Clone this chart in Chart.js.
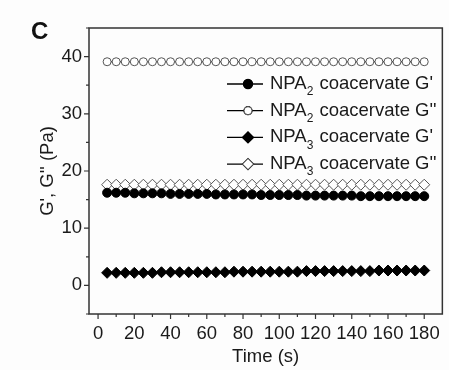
<!DOCTYPE html>
<html>
<head>
<meta charset="utf-8">
<script src="https://cdn.jsdelivr.net/npm/chart.js@4"></script>
<style>
  html, body { margin: 0; padding: 0; background: #fdfdfd; }
  #wrap { width: 449px; height: 370px; }
</style>
</head>
<body>
<div id="wrap"><canvas id="grafico" width="449" height="370"></canvas></div>
<script>
// Tempo (s) e módulos G', G'' (Pa)
const tempo = [5, 10, 15, 20, 25, 30, 35, 40, 45, 50, 55, 60, 65, 70, 75, 80, 85, 90,
  95, 100, 105, 110, 115, 120, 125, 130, 135, 140, 145, 150, 155, 160, 165, 170, 175, 180];

const npa2Gl = [16.2, 16.2, 16.2, 16.1, 16.1, 16.1, 16.1, 16.0, 16.0, 16.0, 16.0, 16.0,
  15.9, 15.9, 15.9, 15.9, 15.9, 15.8, 15.8, 15.8, 15.8, 15.8, 15.7, 15.7,
  15.7, 15.7, 15.7, 15.7, 15.6, 15.6, 15.6, 15.6, 15.6, 15.6, 15.6, 15.6];
const npa2Gll = [39.1, 39.1, 39.1, 39.1, 39.1, 39.1, 39.1, 39.1, 39.1, 39.1, 39.1, 39.1,
  39.1, 39.1, 39.1, 39.1, 39.1, 39.1, 39.1, 39.1, 39.1, 39.1, 39.1, 39.1,
  39.1, 39.1, 39.1, 39.1, 39.1, 39.1, 39.1, 39.1, 39.1, 39.1, 39.1, 39.1];
const npa3Gl = [2.2, 2.2, 2.2, 2.2, 2.2, 2.2, 2.3, 2.3, 2.3, 2.3, 2.3, 2.3,
  2.3, 2.3, 2.4, 2.4, 2.4, 2.4, 2.4, 2.4, 2.4, 2.4, 2.5, 2.5,
  2.5, 2.5, 2.5, 2.5, 2.5, 2.5, 2.6, 2.6, 2.6, 2.6, 2.6, 2.6];
const npa3Gll = [17.6, 17.6, 17.6, 17.6, 17.6, 17.6, 17.6, 17.6, 17.6, 17.6, 17.6, 17.6,
  17.6, 17.6, 17.6, 17.6, 17.6, 17.6, 17.6, 17.6, 17.6, 17.6, 17.6, 17.6,
  17.6, 17.6, 17.6, 17.6, 17.6, 17.6, 17.6, 17.6, 17.6, 17.6, 17.6, 17.6];

// Rótulos dos eixos (marcas maiores)
const ticksX = [0, 20, 40, 60, 80, 100, 120, 140, 160, 180];
const ticksY = [0, 10, 20, 30, 40];
const menoresX = [10, 30, 50, 70, 90, 110, 130, 150, 170];
const menoresY = [-5, 5, 15, 25, 35, 45];

// Legenda: [nome, subscrito, sufixo]
const nomes = [['NPA', '2', " coacervate G'"], ['NPA', '2', " coacervate G''"],
  ['NPA', '3', " coacervate G'"], ['NPA', '3', " coacervate G''"]];

const FONTE = '"Liberation Sans", Arial, sans-serif';
const COR_TEXTO = '#1a1a1a';

function pontos(valores) {
  return tempo.map((t, i) => ({ x: t, y: valores[i] }));
}

// Moldura, marcas dos eixos, letra do painel e legenda
const extras = {
  id: 'extras',
  afterDraw(chart) {
    const ctx = chart.ctx;
    const a = chart.chartArea;
    const sx = chart.scales.x, sy = chart.scales.y;
    ctx.save();
    ctx.strokeStyle = '#333';
    ctx.lineWidth = 1.5;
    ctx.strokeRect(a.left, a.top, a.right - a.left, a.bottom - a.top);

    ctx.lineWidth = 1.2;
    ctx.beginPath();
    ticksX.forEach(v => { const px = sx.getPixelForValue(v); ctx.moveTo(px, a.bottom); ctx.lineTo(px, a.bottom + 5); });
    menoresX.forEach(v => { const px = sx.getPixelForValue(v); ctx.moveTo(px, a.bottom); ctx.lineTo(px, a.bottom + 3); });
    ticksY.forEach(v => { const py = sy.getPixelForValue(v); ctx.moveTo(a.left, py); ctx.lineTo(a.left - 5, py); });
    menoresY.forEach(v => { const py = sy.getPixelForValue(v); ctx.moveTo(a.left, py); ctx.lineTo(a.left - 3, py); });
    ctx.stroke();

    // letra do painel
    ctx.fillStyle = '#111';
    ctx.font = 'bold 24px ' + FONTE;
    ctx.textBaseline = 'alphabetic';
    ctx.textAlign = 'left';
    ctx.fillText('C', 31, 39);

    // legenda
    const x0 = 227, x1 = 263, xm = 248, xt = 270;
    chart.data.datasets.forEach((ds, i) => {
      const y = 84 + i * 26.7;
      ctx.strokeStyle = ds.borderColor;
      ctx.lineWidth = 1.3;
      ctx.beginPath();
      ctx.moveTo(x0, y);
      ctx.lineTo(x1, y);
      ctx.stroke();
      Chart.helpers.drawPoint(ctx, {
        pointStyle: ds.pointStyle,
        radius: ds.pointRadius,
        borderWidth: ds.pointBorderWidth
      }, xm, y);
      ctx.fillStyle = ds.pointBackgroundColor;
      ctx.strokeStyle = ds.pointBorderColor;
      ctx.lineWidth = ds.pointBorderWidth;
      ctx.fill();
      ctx.stroke();

      const [base, sub, resto] = nomes[i];
      ctx.fillStyle = COR_TEXTO;
      ctx.textBaseline = 'middle';
      ctx.font = '18.5px ' + FONTE;
      ctx.fillText(base, xt, y);
      let px = xt + ctx.measureText(base).width;
      ctx.font = '12px ' + FONTE;
      ctx.fillText(sub, px, y + 8);
      px += ctx.measureText(sub).width + 1;
      ctx.font = '18.5px ' + FONTE;
      ctx.fillText(resto, px, y);
    });
    ctx.restore();
  }
};

function serie(label, valores, estilo, raio, preenchido) {
  return {
    label: label,
    data: pontos(valores),
    borderColor: '#000',
    borderWidth: 1.2,
    pointStyle: estilo,
    pointRadius: raio,
    pointHoverRadius: raio,
    pointBackgroundColor: preenchido ? '#000' : '#fff',
    pointBorderColor: preenchido ? '#000' : '#555',
    pointBorderWidth: 1,
    showLine: true,
    tension: 0
  };
}

new Chart(document.getElementById('grafico'), {
  type: 'scatter',
  data: {
    datasets: [
      serie("NPA2 coacervate G'", npa2Gl, 'circle', 4.5, true),
      serie("NPA2 coacervate G''", npa2Gll, 'circle', 4, false),
      serie("NPA3 coacervate G'", npa3Gl, 'rectRot', 5.5, true),
      serie("NPA3 coacervate G''", npa3Gll, 'rectRot', 5.5, false)
    ]
  },
  options: {
    responsive: false,
    animation: false,
    events: [],
    layout: { padding: { top: 28, right: 2, left: 0, bottom: 0 } },
    plugins: { legend: { display: false }, tooltip: { enabled: false } },
    scales: {
      x: {
        type: 'linear',
        min: -5,
        max: 190,
        afterFit: s => { s.height = 56; },
        afterBuildTicks: s => { s.ticks = ticksX.map(v => ({ value: v })); },
        grid: { display: false, drawTicks: false },
        border: { display: false },
        ticks: { color: COR_TEXTO, font: { family: FONTE, size: 18.5 }, padding: 9, maxRotation: 0, autoSkip: false },
        title: { display: true, text: 'Time (s)', color: COR_TEXTO, font: { family: FONTE, size: 18.5 }, padding: { top: 2, bottom: 2 } }
      },
      y: {
        type: 'linear',
        min: -5,
        max: 45,
        afterFit: s => { s.width = 89; },
        afterBuildTicks: s => { s.ticks = ticksY.map(v => ({ value: v })); },
        grid: { display: false, drawTicks: false },
        border: { display: false },
        ticks: { color: COR_TEXTO, font: { family: FONTE, size: 18.5 }, padding: 7 },
        title: { display: true, text: "G', G'' (Pa)", color: COR_TEXTO, font: { family: FONTE, size: 18.5 }, padding: { top: 37, bottom: 37 } }
      }
    }
  },
  plugins: [extras]
});
</script>
</body>
</html>
